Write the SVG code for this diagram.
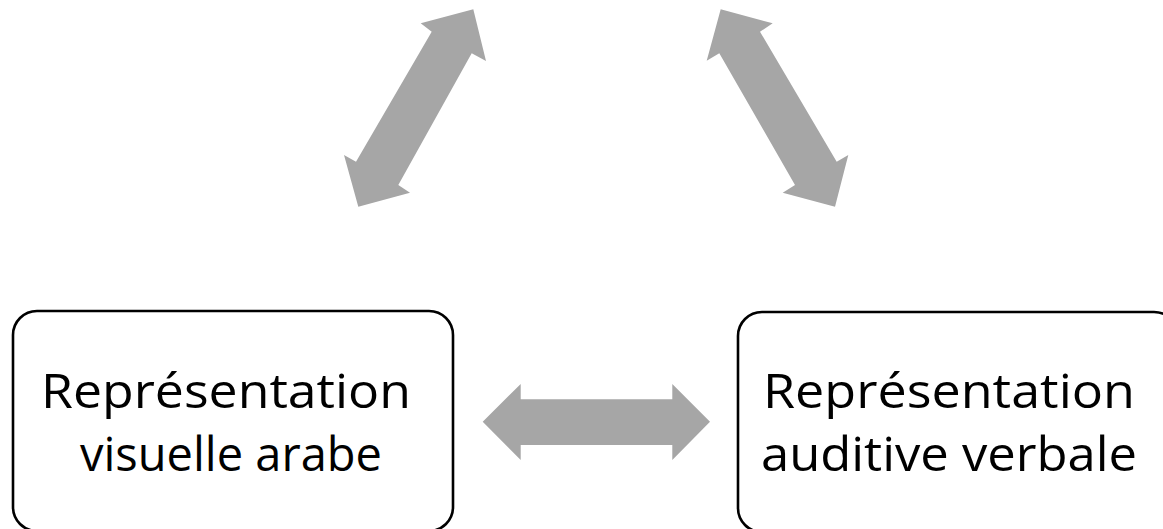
<svg xmlns="http://www.w3.org/2000/svg" width="1163" height="529" viewBox="0 0 1163 529">
<style>
.box{fill:#fff;stroke:#000;stroke-width:2.6}
.lbl{font-family:"Open Sans","Liberation Sans",sans-serif;font-size:48px;fill:#000}
.arr{fill:#A6A6A6;stroke:none}
</style>
<rect width="1163" height="529" fill="#fff"/>
<g id="connectors">
<polygon class="arr" points="473.3,9.3 486,61 471.7,53.3 398.3,185 410,192.7 358.3,206.7 344,155 356,161.7 431.7,31.7 420.7,23.3"/>
<polygon class="arr" points="720.7,9.3 772.7,23.3 760,31.7 836.7,161.7 848.3,155 835,206.7 782.7,192.7 795,185 719.3,53.3 706.7,60.7"/>
<polygon class="arr" points="482.7,421.7 520.7,384 520.7,399.3 672.3,399.3 672.3,384 710,421.7 672.3,460 672.3,445 520.7,445 520.7,460"/>
</g>
<g id="node-visuelle">
<rect class="box" x="13" y="311" width="440" height="220" rx="24" ry="24"/>
<text class="lbl" x="41" y="408" textLength="370" lengthAdjust="spacingAndGlyphs">Représentation</text>
<text class="lbl" x="80" y="471" textLength="302" lengthAdjust="spacingAndGlyphs">visuelle arabe</text>
</g>
<g id="node-auditive">
<rect class="box" x="738" y="312" width="440" height="220" rx="24" ry="24"/>
<text class="lbl" x="763" y="408" textLength="372" lengthAdjust="spacingAndGlyphs">Représentation</text>
<text class="lbl" x="761" y="471" textLength="376" lengthAdjust="spacingAndGlyphs">auditive verbale</text>
</g>
</svg>
